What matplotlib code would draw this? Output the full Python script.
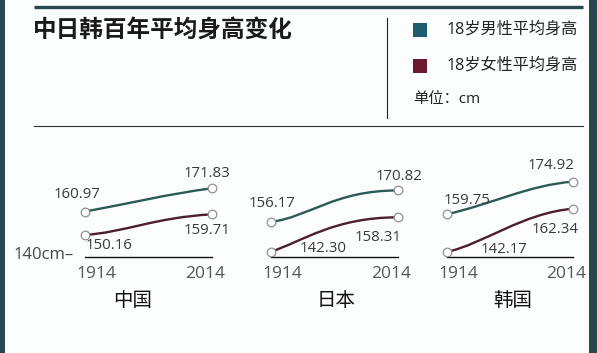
import matplotlib
matplotlib.use('Agg')
import matplotlib.pyplot as plt
from matplotlib.path import Path
from matplotlib.patches import PathPatch, Rectangle

plt.rcParams['font.family'] = ['Open Sans', 'Noto Sans CJK SC', 'DejaVu Sans']

# data
countries = ['中国', '日本', '韩国']
years = [1914, 2014]
male = [[160.97, 171.83], [156.17, 170.82], [159.75, 174.92]]
female = [[150.16, 159.71], [142.30, 158.31], [142.17, 162.34]]
title = '中日韩百年平均身高变化'
legend_labels = ['18岁男性平均身高', '18岁女性平均身高']
unit_label = '单位：cm'

# styles
W, H = 597, 353
BG = '#fcfdfd'
FRAME = '#28494e'
MALE_C = '#2c5a54'
FEMALE_C = '#4c1f2d'
MALE_SQ = '#1f5c6c'
FEMALE_SQ = '#6b1a30'
TXT = '#3a3a3a'
PX_PER_CM = 2.15
BASE_Y = 256.7
# axes left/right in pixels for each country
x_spans = [(84.7, 212.0), (270.7, 397.7), (446.7, 573.3)]
# bezier control (fraction of dx, fraction of dy) for each curve
shape_m = [((0.35, 0.35), (0.65, 0.75)), ((0.3, 0.15), (0.5, 1.0)), ((0.35, 0.3), (0.65, 0.9))]
shape_f = [((0.3, 0.1), (0.55, 0.85)), ((0.25, 0.3), (0.5, 1.0)), ((0.3, 0.2), (0.6, 0.9))]
# label offsets in pixels (start, end)
off_m = [((-8, 17), (-5, 15)), ((1, 18), (1, 14)), ((20, 14), (-22, 16))]
off_f = [((24, -11), (-5, -16)), ((52, 3), (-20, -20)), ((57, 3), (-18, -21))]
name_x = [133, 336, 513]

fig = plt.figure(figsize=(W / 100, H / 100), dpi=100, facecolor=BG)

# frame and header
ov = fig.add_axes([0, 0, 1, 1])
ov.set_xlim(0, W)
ov.set_ylim(H, 0)
ov.axis('off')
ov.add_patch(Rectangle((0, 0), 5, H, color=FRAME, lw=0))
ov.add_patch(Rectangle((589, 0), 8, H, color=FRAME, lw=0))
ov.plot([34, 583], [6.5, 6.5], color=FRAME, lw=2.4, solid_capstyle='butt')
ov.plot([34, 583], [126, 126], color='#333333', lw=0.8)
ov.plot([387, 387], [18, 118], color='#222222', lw=0.8)
ov.text(33, 31, title, fontsize=17, fontweight='bold', color='#1a1a1a',
        va='center', ha='left')
for i, (lab, c) in enumerate(zip(legend_labels, [MALE_SQ, FEMALE_SQ])):
    yc = 30 + i * 36
    ov.add_patch(Rectangle((413, yc - 7), 14, 14, color=c, lw=0))
    ov.text(447, yc, lab, fontsize=11.6, color='#222222', va='center', ha='left')
ov.text(413, 100, unit_label, fontsize=11, color='#222222', va='center', ha='left')
for nm, xc in zip(countries, name_x):
    ov.text(xc, 301, nm, fontsize=14, color='#111111', va='center', ha='center')


def curve(ax, xs, ys, shp, color):
    x0, x1 = xs
    y0, y1 = ys
    dx, dy = x1 - x0, y1 - y0
    (a, b), (c, d) = shp
    verts = [(x0, y0), (x0 + a * dx, y0 + b * dy), (x0 + c * dx, y0 + d * dy), (x1, y1)]
    codes = [Path.MOVETO, Path.CURVE4, Path.CURVE4, Path.CURVE4]
    ax.add_patch(PathPatch(Path(verts, codes), fc='none', ec=color, lw=1.7,
                           clip_on=False, capstyle='round'))


ytop = 180
for i in range(3):
    l, r = x_spans[i]
    h_px = (ytop - 140) * PX_PER_CM
    ax = fig.add_axes([l / W, 1 - BASE_Y / H, (r - l) / W, h_px / H])
    ax.set_xlim(years[0], years[1])
    ax.set_ylim(140, ytop)
    ax.axis('off')
    ax.plot(years, [140, 140], color='#111111', lw=1.0, clip_on=False)
    for vals, shp, offs, col in [(male[i], shape_m[i], off_m[i], MALE_C),
                                 (female[i], shape_f[i], off_f[i], FEMALE_C)]:
        curve(ax, years, vals, shp, col)
        ax.plot(years, vals, ls='none', marker='o', ms=6.2, mfc='white',
                mec='#919191', mew=0.9, clip_on=False, zorder=5)
        for yr, v, o in zip(years, vals, offs):
            ax.annotate(f'{v:.2f}', (yr, v), xytext=o, textcoords='offset pixels',
                        ha='center', va='center', fontsize=10.8, color=TXT)
    ax.annotate(str(years[0]), (years[0], 140), xytext=(12, -17),
                textcoords='offset pixels', ha='center', va='center',
                fontsize=12.5, color='#555555')
    ax.annotate(str(years[1]), (years[1], 140), xytext=(-7, -17),
                textcoords='offset pixels', ha='center', va='center',
                fontsize=12.5, color='#555555')
    if i == 0:
        ax.annotate('140cm–', (years[0], 140), xytext=(-11, 2),
                    textcoords='offset pixels', ha='right', va='center',
                    fontsize=12, color='#484848')

fig.savefig('out.png', dpi=100, facecolor=BG)
